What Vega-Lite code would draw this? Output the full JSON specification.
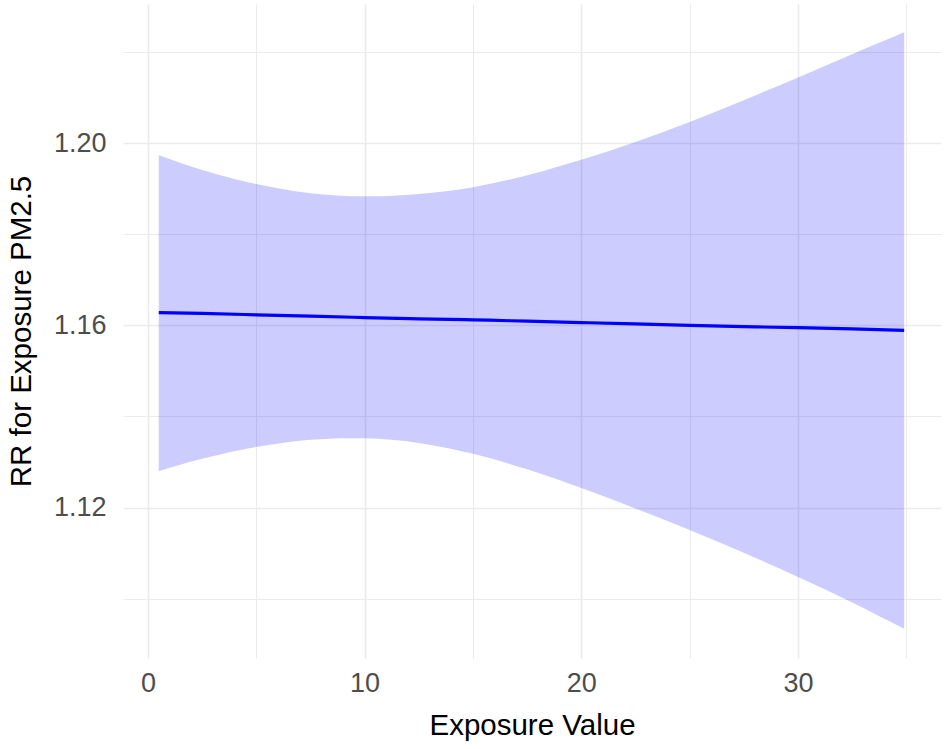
{
  "$schema": "https://vega.github.io/schema/vega-lite/v6.json",
  "autosize": {"type": "none"},
  "padding": {"left": 123, "top": 4, "right": 3, "bottom": 91},
  "width": 818,
  "height": 654,
  "background": "white",
  "config": {
    "view": {"stroke": null},
    "font": "Liberation Sans",
    "axis": {
      "domain": false,
      "ticks": false,
      "tickSize": 0,
      "labelFont": "Liberation Sans",
      "titleFont": "Liberation Sans",
      "labelColor": "#4D4D4D",
      "titleColor": "#000000",
      "labelFontSize": 27,
      "titleFontSize": 29.5,
      "titleFontWeight": "normal",
      "gridColor": "#EBEBEB"
    }
  },
  "data": {
    "values": [
      {"x": 0.5, "rr": 1.1628, "lower": 1.1280, "upper": 1.1973},
      {"x": 2.5, "rr": 1.1626, "lower": 1.1307, "upper": 1.1941},
      {"x": 5, "rr": 1.1623, "lower": 1.1333, "upper": 1.1910},
      {"x": 7.5, "rr": 1.1620, "lower": 1.1349, "upper": 1.1890},
      {"x": 10, "rr": 1.1617, "lower": 1.1352, "upper": 1.1883},
      {"x": 12.5, "rr": 1.1614, "lower": 1.1342, "upper": 1.1888},
      {"x": 15, "rr": 1.1612, "lower": 1.1318, "upper": 1.1903},
      {"x": 17.5, "rr": 1.1609, "lower": 1.1284, "upper": 1.1929},
      {"x": 20, "rr": 1.1606, "lower": 1.1243, "upper": 1.1963},
      {"x": 22.5, "rr": 1.1603, "lower": 1.1198, "upper": 1.2002},
      {"x": 25, "rr": 1.1600, "lower": 1.1151, "upper": 1.2046},
      {"x": 27.5, "rr": 1.1597, "lower": 1.1101, "upper": 1.2094},
      {"x": 30, "rr": 1.1595, "lower": 1.1048, "upper": 1.2144},
      {"x": 32.5, "rr": 1.1592, "lower": 1.0992, "upper": 1.2195},
      {"x": 34.9, "rr": 1.1589, "lower": 1.0934, "upper": 1.2243}
    ]
  },
  "layer": [
    {
      "mark": {"type": "area", "color": "#0000FF", "opacity": 0.2, "interpolate": "natural"},
      "encoding": {
        "x": {
          "field": "x", "type": "quantitative",
          "scale": {"domain": [-1.15, 36.6], "nice": false, "zero": false},
          "axis": {
            "title": "Exposure Value",
            "values": [0, 5, 10, 15, 20, 25, 30, 35],
            "labelExpr": "datum.value % 10 === 0 ? format(datum.value, 'd') : ''",
            "labelPadding": 12,
            "titlePadding": 15,
            "grid": true,
            "gridWidth": {"condition": {"test": "datum.value % 10 === 0", "value": 1.6}, "value": 1},
            "labelFlush": false,
            "labelOverlap": false
          }
        },
        "y": {
          "field": "lower", "type": "quantitative",
          "scale": {"domain": [1.087, 1.2305], "nice": false, "zero": false},
          "axis": {
            "title": "RR for Exposure PM2.5",
            "values": [1.10, 1.12, 1.14, 1.16, 1.18, 1.20, 1.22],
            "labelExpr": "round(datum.value * 100) % 4 === 0 ? format(datum.value, '.2f') : ''",
            "labelPadding": 17,
            "titlePadding": 17,
            "grid": true,
            "gridWidth": {"condition": {"test": "round(datum.value * 100) % 4 === 0", "value": 1.6}, "value": 1},
            "labelFlush": false,
            "labelOverlap": false
          }
        },
        "y2": {"field": "upper"}
      }
    },
    {
      "mark": {"type": "line", "color": "#0000FF", "strokeWidth": 3.2, "interpolate": "natural"},
      "encoding": {
        "x": {"field": "x", "type": "quantitative"},
        "y": {"field": "rr", "type": "quantitative"}
      }
    }
  ]
}
